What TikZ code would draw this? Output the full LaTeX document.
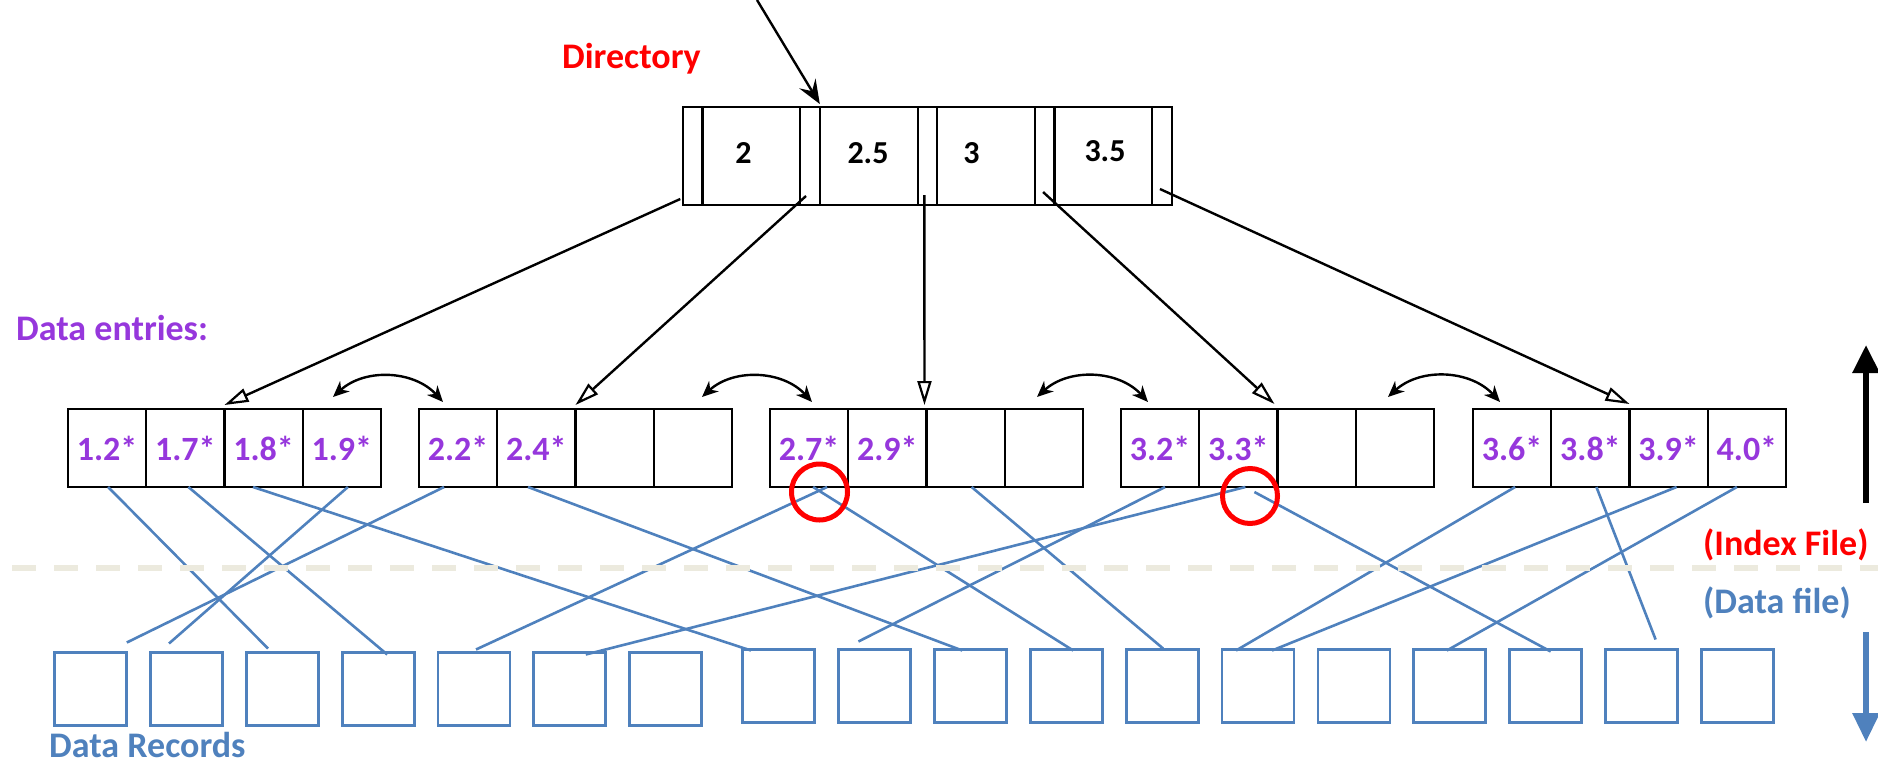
\documentclass[tikz,border=0pt]{standalone}
\usepackage{fontspec}
\setmainfont{Carlito}
\usetikzlibrary{arrows.meta,calc}
\definecolor{entry}{RGB}{150,55,220}
\definecolor{dblue}{RGB}{79,129,189}
\definecolor{dashc}{RGB}{236,234,222}
\newcommand\lffont{\fontsize{34}{40}\selectfont\bfseries}
\newcommand\dirfont{\fontsize{32}{38}\selectfont\bfseries}
\newcommand\lblfont{\fontsize{36}{42}\selectfont\bfseries}
\begin{document}
\begin{tikzpicture}[x=1pt,y=-1pt,
  cell/.style={draw=black, line width=2.4pt, minimum width=78.25pt, minimum height=78pt, inner sep=0pt, outer sep=0pt, font=\lffont, text=entry},
  rec/.style={draw=dblue, line width=2.8pt, minimum width=72pt, minimum height=73pt, inner sep=0pt, outer sep=0pt},
  ptr/.style={draw=black, line width=2.2pt, minimum width=19.5pt, minimum height=98pt, inner sep=0pt, outer sep=0pt},
  key/.style={draw=black, line width=2.2pt, minimum width=97.8pt, minimum height=98pt, inner sep=0pt, outer sep=0pt},
  keytext/.style={font=\dirfont, text=black, inner sep=0pt},
  link/.style={dblue, line width=2.6pt},
  dirarrow/.style={black, line width=2.4pt, -{Triangle[open, length=24pt, width=14pt, line width=2.2pt]}},
  sibarrow/.style={black, line width=2.4pt, {Stealth[length=16pt,width=14pt,inset=5pt]}-{Stealth[length=16pt,width=14pt,inset=5pt]}},
  redmark/.style={red, line width=5pt},
  lbl/.style={font=\lblfont, inner sep=0pt}
]
\useasboundingbox (0,0) rectangle (1878,766);

% labels
\node[lbl, text=red, anchor=base] (dirlbl) at (631.5,68) {Directory};
\node[lbl, text=entry, anchor=base west] (delbl) at (16,340) {Data entries:};
\node[lbl, text=dblue, anchor=base west] (drlbl) at (49,757) {Data Records};
\node[lbl, text=red, anchor=base west] (ixlbl) at (1703,555) {(Index File)};
\node[lbl, text=dblue, anchor=base west] (dflbl) at (1703,613) {(Data file)};

% directory
\node[ptr] (p0) at (692.75,156) {};
\node[key] (k1) at (751.4,156) {};
\node[ptr] (p1) at (810,156) {};
\node[key] (k2) at (868.7,156) {};
\node[ptr] (p2) at (927.35,156) {};
\node[key] (k3) at (986,156) {};
\node[ptr] (p3) at (1044.65,156) {};
\node[key] (k4) at (1103.3,156) {};
\node[ptr] (p4) at (1161.95,156) {};
\node[keytext] (t1) at (743.5,153) {2};
\node[keytext] (t2) at (868,153) {2.5};
\node[keytext] (t3) at (971.5,153) {3};
\node[keytext] (t4) at (1105,151) {3.5};

\coordinate (entry) at (757,0);
\draw[black, line width=2.4pt, -{Stealth[length=24pt,width=19pt,inset=9pt]}] (entry) -- ([yshift=3pt]k2.north west);

% leaves
\node[cell] (l1c1) at (107.1,448) {1.2*};
\node[cell] (l1c2) at (185.4,448) {1.7*};
\node[cell] (l1c3) at (263.6,448) {1.8*};
\node[cell] (l1c4) at (341.9,448) {1.9*};
\node[cell] (l2c1) at (458.1,448) {2.2*};
\node[cell] (l2c2) at (536.4,448) {2.4*};
\node[cell] (l2c3) at (614.6,448) {};
\node[cell] (l2c4) at (692.9,448) {};
\node[cell] (l3c1) at (809.1,448) {2.7*};
\node[cell] (l3c2) at (887.4,448) {2.9*};
\node[cell] (l3c3) at (965.6,448) {};
\node[cell] (l3c4) at (1043.9,448) {};
\node[cell] (l4c1) at (1160.1,448) {3.2*};
\node[cell] (l4c2) at (1238.4,448) {3.3*};
\node[cell] (l4c3) at (1316.6,448) {};
\node[cell] (l4c4) at (1394.9,448) {};
\node[cell] (l5c1) at (1512.1,448) {3.6*};
\node[cell] (l5c2) at (1590.4,448) {3.8*};
\node[cell] (l5c3) at (1668.6,448) {3.9*};
\node[cell] (l5c4) at (1746.9,448) {4.0*};

% directory pointers
\draw[dirarrow] ([xshift=-12.5pt,yshift=6pt]p0.south) -- ([yshift=4pt]l1c3.north west);
\draw[dirarrow] ([xshift=-4pt,yshift=9pt]p1.south) -- ([yshift=4pt]l2c3.north west);
\draw[dirarrow] ([xshift=-3pt,yshift=10pt]p2.south) -- ([xshift=-2pt,yshift=4pt]l3c3.north west);
\draw[dirarrow] ([xshift=-1.6pt,yshift=13pt]p3.south) -- ([xshift=-3pt,yshift=5pt]l4c3.north west);
\draw[dirarrow] ([xshift=-2pt,yshift=16pt]p4.south) -- ([yshift=5pt]l5c3.north west);

% sibling links
\coordinate (s1a) at (333,397); \coordinate (s1b) at (443,402);
\coordinate (s2a) at (702,397); \coordinate (s2b) at (812,402);
\coordinate (s3a) at (1037,397); \coordinate (s3b) at (1148,402);
\coordinate (s4a) at (1388,397); \coordinate (s4b) at (1500,402);
\draw[sibarrow] (s1a) to[bend left=45] (s1b);
\draw[sibarrow] (s2a) to[bend left=45] (s2b);
\draw[sibarrow] (s3a) to[bend left=45] (s3b);
\draw[sibarrow] (s4a) to[bend left=45] (s4b);

% data records
\foreach \k in {0,...,6} {
  \pgfmathsetmacro\rx{90.8+95.8*\k}
  \pgfmathtruncatemacro\rn{\k+1}
  \node[rec] (r\rn) at (\rx,689) {};
}
\foreach \k in {0,...,10} {
  \pgfmathsetmacro\rx{778.5+95.9*\k}
  \pgfmathtruncatemacro\rn{\k+8}
  \node[rec] (r\rn) at (\rx,686) {};
}

% entry -> record links
\draw[link] ([xshift=1pt]l1c1.south) -- ([xshift=-14.4pt,yshift=4pt]r3.north);
\draw[link] ([xshift=3pt]l1c2.south) -- ([xshift=9pt,yshift=-2pt]r4.north);
\draw[link] ([xshift=-10.6pt]l1c3.south) -- ([xshift=-27.5pt,yshift=-1pt]r8.north);
\draw[link] ([xshift=6pt]l1c4.south) -- ([xshift=-17.6pt,yshift=9pt]r2.north);
\draw[link] ([xshift=-14pt]l2c1.south) -- ([xshift=36pt,yshift=10pt]r1.north);
\draw[link] ([xshift=-8.4pt]l2c2.south) -- ([xshift=-8pt,yshift=-1pt]r10.north);
\draw[link] ([xshift=18pt]l3c1.south) -- ([xshift=2pt,yshift=3pt]r5.north);
\draw[link] ([xshift=4pt]l3c1.south) -- ([xshift=7pt,yshift=-1pt]r11.north);
\draw[link] ([xshift=6pt]l3c3.south) -- ([xshift=1pt,yshift=1pt]r12.north);
\draw[link] ([xshift=5pt]l4c1.south) -- ([xshift=-16pt,yshift=8pt]r9.north);
\draw[link] ([xshift=7pt]l4c2.south) -- ([xshift=16pt,yshift=-2pt]r6.north);
\draw[link] ([xshift=16pt,yshift=-5pt]l4c2.south) -- ([xshift=5pt,yshift=-2pt]r16.north);
\draw[link] ([xshift=3pt]l5c1.south) -- ([xshift=-22pt,yshift=-1pt]r13.north);
\draw[link] ([xshift=6pt]l5c2.south) -- ([xshift=14pt,yshift=10pt]r17.north);
\draw[link] ([xshift=8pt]l5c3.south) -- ([xshift=14pt,yshift=-1pt]r13.north);
\draw[link] ([xshift=-10pt]l5c4.south) -- ([xshift=-3pt,yshift=-1pt]r15.north);

% index / data separator
\coordinate (sepL) at (12,567.8);
\coordinate (sepR) at (1878,567.8);
\draw[dashc, line width=5.7pt, dash pattern=on 24pt off 18pt] (sepL) -- (sepR);

% red marks
\coordinate (m1) at (819.5,492);
\coordinate (m2) at (1250,496);
\draw[redmark] (m1) circle[radius=28pt];
\draw[redmark] (m2) circle[radius=27.5pt];

% side arrows
\coordinate (upS) at (1866,503); \coordinate (upE) at (1866,345);
\coordinate (dnS) at (1866,632); \coordinate (dnE) at (1866,742);
\draw[black, line width=6pt, -{Triangle[length=28pt,width=26pt]}] (upS) -- (upE);
\draw[dblue, line width=6pt, -{Triangle[length=29pt,width=26pt]}] (dnS) -- (dnE);
\end{tikzpicture}
\end{document}
